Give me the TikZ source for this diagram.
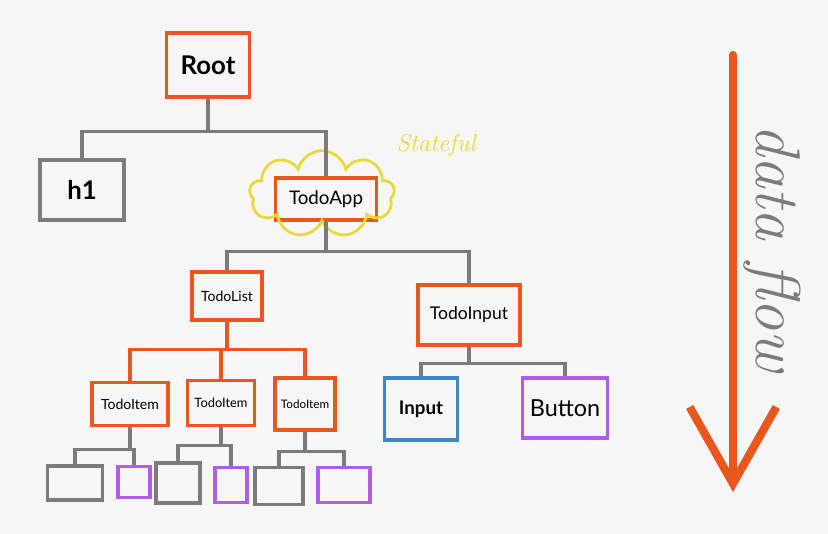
\documentclass[tikz,border=0pt]{standalone}
\usepackage{fontspec}
\setsansfont{Lato}
\usepackage{xcolor}
\usepackage{tikz}
\usetikzlibrary{arrows.meta,shapes.symbols}

\definecolor{paper}{HTML}{F6F6F6}
\definecolor{penorange}{HTML}{E8571E}
\definecolor{pengray}{HTML}{7B7B7B}
\definecolor{penblue}{HTML}{3D86C6}
\definecolor{penpurple}{HTML}{B25DE8}
\definecolor{penyellow}{HTML}{E9D93C}

\begin{document}
\begin{tikzpicture}[x=0.03cm,y=-0.03cm,
        box/.style = {draw, line width=2.8pt, inner sep=0pt, font=\sffamily},
        orangebox/.style = {box, draw=penorange},
        graybox/.style = {box, draw=pengray},
        bluebox/.style = {box, draw=penblue},
        purplebox/.style = {box, draw=penpurple},
        link/.style = {draw=pengray, line width=2.8pt},
        orangelink/.style = {draw=penorange, line width=2.8pt},
        flowarrow/.style = {draw=penorange, line width=7pt, line cap=round,
                            -{Straight Barb[length=2.3cm,width=2.6cm]}}
        ]
    \fill[paper] (0,0) rectangle (828,534);
    \useasboundingbox (0,0) rectangle (828,534);

    % top of the tree
    \node[orangebox, minimum width=2.49cm, minimum height=1.92cm, font=\sffamily\bfseries\fontsize{22}{22}\selectfont] (root) at (208,65) {Root};
    \node[graybox, minimum width=2.52cm, minimum height=1.80cm, font=\sffamily\bfseries\fontsize{22}{22}\selectfont] (h1) at (82,190) {h1};
    \node[orangebox, minimum width=3.03cm, minimum height=1.26cm, font=\sffamily\fontsize{16}{16}\selectfont] (todoapp) at (326,199) {TodoApp};
    \node[draw=penyellow, line width=2.4pt, cloud, cloud puffs=9, minimum width=4.35cm, minimum height=2.6cm] (todoapp cloud) at (322,194) {};
    \node[text=penyellow, font=\itshape\fontsize{21}{21}\selectfont] (stateful) at (436,145) {Stateful}; %label

    \draw[link] (root.south) -- ++(0,33) -| (h1.north);
    \draw[link] (root.south) ++(0,33) -| (todoapp.north);

    % middle row
    \node[orangebox, minimum width=2.10cm, minimum height=1.44cm, font=\sffamily\fontsize{12}{12}\selectfont] (todolist) at (227,296) {TodoList};
    \node[orangebox, minimum width=3.06cm, minimum height=1.80cm, font=\sffamily\fontsize{15}{15}\selectfont] (todoinput) at (469,315) {TodoInput};

    \draw[link] (todoapp.south) -- ++(0,30) -| (todolist.north);
    \draw[link] (todoapp.south) ++(0,30) -| (todoinput.north);

    % items, input, button
    \node[orangebox, minimum width=2.28cm, minimum height=1.29cm, font=\sffamily\fontsize{12}{12}\selectfont] (item1) at (130,404) {TodoItem};
    \node[orangebox, minimum width=2.01cm, minimum height=1.35cm, font=\sffamily\fontsize{11}{11}\selectfont] (item2) at (221,403) {TodoItem};
    \node[orangebox, minimum width=1.80cm, minimum height=1.56cm, font=\sffamily\fontsize{10}{10}\selectfont] (item3) at (305,404) {TodoItem};
    \node[bluebox, minimum width=2.19cm, minimum height=1.86cm, font=\sffamily\bfseries\fontsize{16}{16}\selectfont] (input) at (421,409) {Input};
    \node[purplebox, minimum width=2.55cm, minimum height=1.80cm, font=\sffamily\fontsize{20}{20}\selectfont] (button) at (565,408) {Button};

    \draw[orangelink] (todolist.south) -- ++(0,28) -| (item1.north);
    \draw[orangelink] (todolist.south) ++(0,28) -| (item2.north);
    \draw[orangelink] (todolist.south) ++(0,28) -| (item3.north);
    \draw[link] (todoinput.south) -- ++(0,17) -| (input.north);
    \draw[link] (todoinput.south) ++(0,17) -| (button.north);

    % leaves
    \node[graybox, minimum width=1.65cm, minimum height=1.02cm] (leaf1) at (75,483) {};
    \node[purplebox, minimum width=0.96cm, minimum height=0.93cm] (leaf2) at (134,482) {};
    \node[graybox, minimum width=1.32cm, minimum height=1.20cm] (leaf3) at (178,483) {};
    \node[purplebox, minimum width=0.96cm, minimum height=1.05cm] (leaf4) at (231,485) {};
    \node[graybox, minimum width=1.44cm, minimum height=1.11cm] (leaf5) at (279,486) {};
    \node[purplebox, minimum width=1.56cm, minimum height=1.05cm] (leaf6) at (344,485) {};

    \draw[link] (item1.south) -- ++(0,22) -| (leaf1.north);
    \draw[link] (item1.south) ++(0,22) -| (leaf2.north);
    \draw[link] (item2.south) -- ++(0,18) -| (leaf3.north);
    \draw[link] (item2.south) ++(0,18) -| (leaf4.north);
    \draw[link] (item3.south) -- ++(0,20) -| (leaf5.north);
    \draw[link] (item3.south) ++(0,20) -| (leaf6.north);

    % data flow arrow
    \coordinate (flow start) at (733,55);
    \coordinate (flow end) at (733,492);
    \draw[flowarrow] (flow start) -- (flow end);
    \node[rotate=-90, text=pengray, font=\itshape\fontsize{54}{54}\selectfont] (flow label) at (772,248) {data flow}; %label
\end{tikzpicture}
\end{document}
